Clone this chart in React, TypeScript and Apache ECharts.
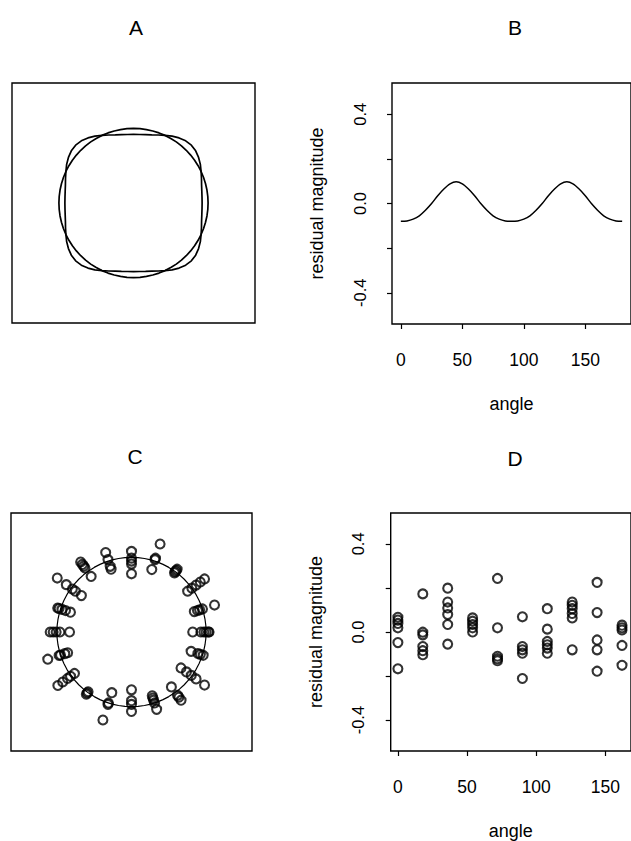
import React, { useEffect, useRef } from "react";
import * as echarts from "echarts";

// Panel B: residual magnitude of the rounded square against the circle, by angle (degrees)
const bAngles = [0, 5, 10, 15, 20, 25, 30, 35, 40, 45, 50, 55, 60, 65, 70, 75, 80, 85, 90, 95, 100, 105, 110, 115, 120, 125, 130, 135, 140, 145, 150, 155, 160, 165, 170, 175, 180];
const bResidual = [-0.08, -0.078, -0.07, -0.055, -0.03, 0.0, 0.035, 0.065, 0.088, 0.097, 0.088, 0.065, 0.035, 0.0, -0.03, -0.055, -0.07, -0.078, -0.08, -0.078, -0.07, -0.055, -0.03, 0.0, 0.035, 0.065, 0.088, 0.097, 0.088, 0.065, 0.035, 0.0, -0.03, -0.055, -0.07, -0.078, -0.08];

// Panel C: observed radii (circle radius = 1) at each sampled angle
const cAngles = [0, 18, 36, 54, 72, 90, 108, 126, 144, 162, 180, 198, 216, 234, 252, 270, 288, 306, 324, 342];
const cRadii = [
  [0.82, 0.93, 0.97, 1.0, 1.03, 1.04],
  [0.885, 0.93, 0.96, 1.0, 1.17],
  [0.93, 1.0, 1.07, 1.14, 1.21],
  [0.98, 1.0, 1.02, 1.04],
  [0.88, 1.02, 1.04, 1.24],
  [0.78, 0.91, 0.95, 0.99, 1.08],
  [0.885, 0.925, 1.02, 1.12],
  [0.92, 1.06, 1.09, 1.12, 1.16],
  [0.83, 0.93, 0.98, 1.08, 1.23],
  [0.86, 0.93, 0.98, 1.02, 1.04],
  [0.83, 0.96, 1.01, 1.05, 1.09],
  [0.9, 0.94, 1.0, 1.02, 1.18],
  [0.945, 1.01, 1.06, 1.14, 1.22],
  [0.99, 1.01, 1.03],
  [0.855, 1.0, 1.02, 1.24],
  [0.775, 0.92, 0.97, 1.065],
  [0.9, 0.93, 0.96, 1.0, 1.09],
  [0.91, 1.05, 1.08, 1.13],
  [0.82, 0.91, 0.99, 1.07, 1.21],
  [0.84, 0.935, 0.97, 1.01],
];

// Panel D: residual magnitudes by angle
const dAngles = [0, 18, 36, 54, 72, 90, 108, 126, 144, 162];
const dResiduals = [
  [0.067, 0.054, 0.039, 0.019, -0.048, -0.167],
  [0.173, -0.001, -0.013, -0.066, -0.085, -0.103],
  [0.199, 0.136, 0.109, 0.079, 0.034, -0.055],
  [0.064, 0.049, 0.034, 0.019, 0.0],
  [0.243, 0.019, -0.11, -0.121, -0.13],
  [0.069, -0.066, -0.081, -0.096, -0.211],
  [0.106, 0.013, -0.043, -0.058, -0.073, -0.096],
  [0.136, 0.121, 0.106, 0.084, 0.064, -0.081],
  [0.225, 0.088, -0.036, -0.081, -0.178],
  [0.031, 0.019, 0.009, -0.061, -0.151],
];

const xTicks = [0, 50, 100, 150];
const yTicks = [-0.4, -0.2, 0, 0.2, 0.4];
const yLabels = [-0.4, 0, 0.4];
const panelTitles = ["A", "B", "C", "D"];

const FONT = '"Liberation Sans", Arial, Helvetica, sans-serif';
const INK = "#000";

const toXY = (r: number, deg: number) => [r * Math.cos((deg * Math.PI) / 180), r * Math.sin((deg * Math.PI) / 180)];

function buildOption() {
  const ringAngles = [...bAngles, ...bAngles.slice(1).map((a) => a + 180)];
  const ringResidual = [...bResidual, ...bResidual.slice(1)];
  const circleData = ringAngles.map((a) => toXY(1, a));
  const squircleData = ringAngles.map((a, i) => toXY(1 + ringResidual[i], a));
  const cPoints: number[][] = [];
  cAngles.forEach((a, i) => cRadii[i].forEach((r) => cPoints.push(toXY(r, a))));
  const dPoints: number[][] = [];
  dAngles.forEach((a, i) => dResiduals[i].forEach((v) => dPoints.push([a, v])));

  const box = { show: true, borderColor: INK, borderWidth: 1.4, backgroundColor: "transparent" };
  const hidden = (gridIndex: number, min: number, max: number) => ({
    gridIndex, type: "value", min, max, show: false,
  });
  const xVal = (gridIndex: number, min: number, max: number) => ({
    gridIndex, type: "value", min, max, position: "bottom",
    axisLine: { show: false, onZero: false },
    splitLine: { show: false },
    axisTick: { show: true, inside: false, customValues: xTicks, length: 5, lineStyle: { color: INK, width: 1.2 } },
    axisLabel: { customValues: xTicks, fontSize: 17.5, fontFamily: FONT, color: INK, margin: 27 },
    name: "angle", nameLocation: "middle", nameGap: 71,
    nameTextStyle: { fontSize: 18, fontFamily: FONT, color: INK },
  });
  const yVal = (gridIndex: number) => ({
    gridIndex, type: "value", min: -0.54, max: 0.54, position: "left",
    axisLine: { show: false, onZero: false },
    splitLine: { show: false },
    axisTick: { show: true, inside: false, customValues: yTicks, length: 5, lineStyle: { color: INK, width: 1.2 } },
    axisLabel: {
      customValues: yLabels, rotate: 90, fontSize: 16.5, fontFamily: FONT, color: INK, margin: 24,
      formatter: (v: number) => v.toFixed(1),
    },
    name: "residual magnitude", nameLocation: "middle", nameGap: 66,
    nameTextStyle: { fontSize: 18, fontFamily: FONT, color: INK },
  });

  const titlePos = [[136, 27], [515, 27], [135, 456], [515, 458]];

  return {
    animation: false,
    backgroundColor: "#fff",
    textStyle: { fontFamily: FONT },
    grid: [
      { left: 12, top: 83, width: 243, height: 240, ...box },
      { left: 392, top: 83, width: 242.6, height: 241, ...box },
      { left: 11, top: 513, width: 241, height: 238, ...box },
      { left: 390.7, top: 513, width: 241.8, height: 240, ...box },
    ],
    xAxis: [
      hidden(0, -1.629, 1.629),
      xVal(1, -7.2, 187.2),
      hidden(2, -1.615, 1.615),
      xVal(3, -5.2, 168.5),
    ],
    yAxis: [
      hidden(0, -1.609, 1.609),
      yVal(1),
      hidden(2, -1.595, 1.595),
      yVal(3),
    ],
    graphic: panelTitles.map((t, i) => ({
      type: "text", x: titlePos[i][0], y: titlePos[i][1],
      style: { text: t, fontSize: 21, fontFamily: FONT, fill: INK, align: "center", verticalAlign: "middle" },
    })),
    series: [
      {
        type: "line", xAxisIndex: 0, yAxisIndex: 0, data: circleData, showSymbol: false,
        lineStyle: { color: INK, width: 1.7 }, silent: true,
      },
      {
        type: "line", xAxisIndex: 0, yAxisIndex: 0, data: squircleData, showSymbol: false,
        lineStyle: { color: INK, width: 1.7 }, silent: true,
      },
      {
        type: "line", xAxisIndex: 1, yAxisIndex: 1, data: bAngles.map((a, i) => [a, bResidual[i]]),
        showSymbol: false, smooth: 0.3, lineStyle: { color: INK, width: 1.5 }, silent: true,
      },
      {
        type: "line", xAxisIndex: 2, yAxisIndex: 2, data: circleData, showSymbol: false,
        lineStyle: { color: INK, width: 1.2 }, silent: true,
      },
      {
        type: "scatter", xAxisIndex: 2, yAxisIndex: 2, data: cPoints, symbol: "circle", symbolSize: 9,
        itemStyle: { color: "transparent", borderColor: INK, borderWidth: 2.1 }, silent: true,
      },
      {
        type: "scatter", xAxisIndex: 3, yAxisIndex: 3, data: dPoints, symbol: "circle", symbolSize: 9,
        itemStyle: { color: "transparent", borderColor: INK, borderWidth: 2.1 }, silent: true,
      },
    ],
  };
}

export default function App() {
  const ref = useRef<HTMLDivElement>(null);
  useEffect(() => {
    if (!ref.current) return;
    const chart = echarts.init(ref.current, null, { renderer: "svg" });
    chart.setOption(buildOption() as any);
    return () => chart.dispose();
  }, []);
  return (
    <div
      ref={ref}
      style={{ position: "fixed", left: 0, top: 0, width: 631, height: 841, background: "#fff" }}
    />
  );
}
